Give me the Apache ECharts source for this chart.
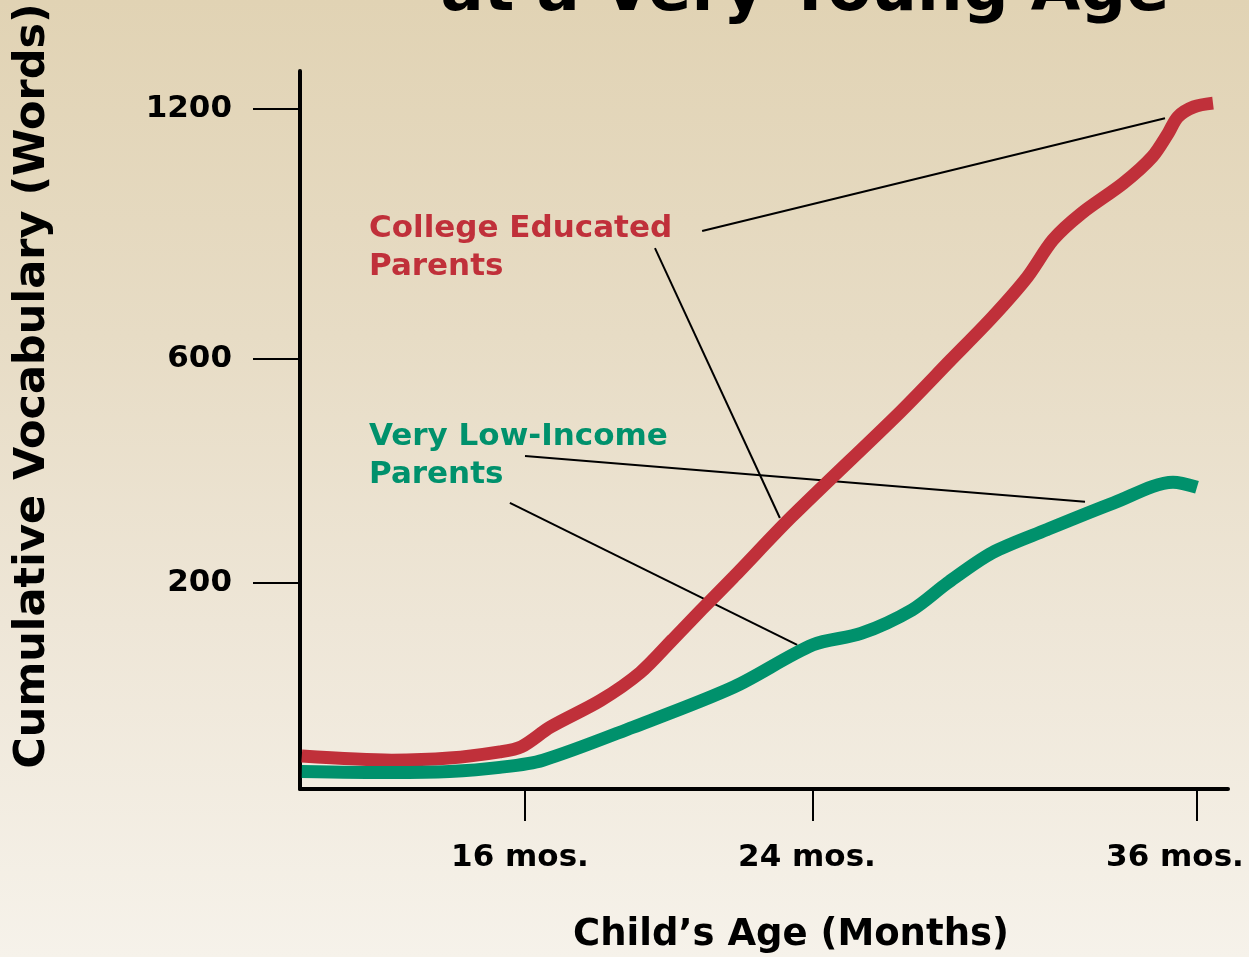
<!DOCTYPE html>
<html>
<head>
<meta charset="utf-8">
<title>Vocabulary at a Very Young Age</title>
<script src="https://cdn.jsdelivr.net/npm/echarts@6/dist/echarts.min.js"></script>
<style>
  html, body { margin: 0; padding: 0; }
  body {
    width: 1249px; height: 957px;
    background: linear-gradient(to bottom, #e1d3b4 0%, #e7dcc5 35%, #eee6d7 65%, #f6f2ea 100%);
  }
  #chart { width: 1249px; height: 957px; }
</style>
</head>
<body>
<div id="chart"></div>
<script>
// data (age in months, vocabulary in words)
const ageCollege = [9.8, 12.3, 13.9, 15.3, 15.9, 16.7, 18.1, 19.2, 20.1, 20.9, 21.8, 23.4, 26.7, 28.3, 29.6, 30.7, 31.5, 32.4, 33.7, 34.6, 35.1, 35.4, 35.9, 36.5];
const vocabCollege = [32, 28, 30, 36, 41, 60, 86, 113, 145, 174, 211, 318, 504, 598, 700, 797, 886, 950, 1022, 1085, 1142, 1181, 1205, 1214];

const ageLowIncome = [9.8, 12.3, 13.9, 15.3, 16.5, 19.0, 21.8, 24.0, 25.5, 27.1, 28.2, 29.6, 31.3, 33.4, 35.25, 36.0];
const vocabLowIncome = [17, 16, 17, 21, 28, 60, 99, 140, 151, 174, 200, 254, 295, 343, 380, 371];

const xTicks = [16, 24, 36];
const xTickLabels = ['16 mos.', '24 mos.', '36 mos.'];
const yTicks = [200, 600, 1200];

// leader lines from the labels to the curves, [age, words]
const leaderFrom = [[20.92, 907], [19.61, 866], [16.0, 427], [15.58, 343]];
const leaderTo = [[35.0, 1178], [23.08, 316], [32.5, 345], [23.56, 140]];

// the original axes are not evenly spaced, so both are piecewise-linear scales
const monthKnots = [16, 24, 36];
const monthPos = [225, 513, 897];
const wordKnots = [0, 200, 600, 1200];
const wordPos = [0, 206, 430, 680];

function interp(v, xs, ys) {
  let i = 0;
  while (i < xs.length - 2 && v > xs[i + 1]) i++;
  return ys[i] + (v - xs[i]) * (ys[i + 1] - ys[i]) / (xs[i + 1] - xs[i]);
}
const xOf = m => interp(m, monthKnots, monthPos);
const yOf = w => interp(w, wordKnots, wordPos);
const toPoint = (m, w) => [xOf(m), yOf(w)];

const collegeData = ageCollege.map((m, i) => toPoint(m, vocabCollege[i]));
const lowIncomeData = ageLowIncome.map((m, i) => toPoint(m, vocabLowIncome[i]));
const leaderData = leaderFrom.map((p, i) => ({
  coords: [toPoint(p[0], p[1]), toPoint(leaderTo[i][0], leaderTo[i][1])]
}));

const xTickPos = xTicks.map(xOf);
const yTickPos = yTicks.map(yOf);
const xLabelPad = [10, 12, 44]; // pushes a label left of its tick

const FONT = "'DejaVu Sans', Verdana, sans-serif";
const RED = '#c0303a';
const GREEN = '#00916c';

const rich = {};
xLabelPad.forEach((p, i) => {
  rich['s' + i] = { padding: [0, p, 0, 0], fontFamily: FONT, fontWeight: 'bold', fontSize: 31, color: '#000' };
});

const chart = echarts.init(document.getElementById('chart'));

const option = {
  animation: false,
  backgroundColor: 'transparent',
  grid: { left: 300, right: 21, top: 71, bottom: 168 },
  xAxis: {
    type: 'value',
    min: 0,
    max: 928,
    splitLine: { show: false },
    axisLine: { onZero: false, lineStyle: { color: '#000', width: 4 } },
    axisTick: { customValues: xTickPos, length: 32, lineStyle: { color: '#000', width: 2 } },
    axisLabel: {
      customValues: xTickPos,
      margin: 53,
      formatter: function (v) {
        const i = xTickPos.findIndex(p => Math.abs(p - v) < 0.01);
        return '{s' + i + '|' + xTickLabels[i] + '}';
      },
      rich: rich
    }
  },
  yAxis: {
    type: 'value',
    min: 0,
    max: 718,
    splitLine: { show: false },
    axisLine: { show: true, lineStyle: { color: '#000', width: 4 } },
    axisTick: { show: true, customValues: yTickPos, length: 47, lineStyle: { color: '#000', width: 2 } },
    axisLabel: {
      customValues: yTickPos,
      margin: 68,
      fontFamily: FONT,
      fontWeight: 'bold',
      fontSize: 31,
      color: '#000',
      formatter: function (v) {
        const i = yTickPos.findIndex(p => Math.abs(p - v) < 0.01);
        return String(yTicks[i]);
      }
    }
  },
  graphic: [
    {
      type: 'text', x: 805, y: -7,
      style: {
        text: 'at a Very Young Age',
        fontFamily: FONT, fontWeight: 'bold', fontSize: 64,
        fill: '#000', align: 'center', verticalAlign: 'middle',
        textShadowColor: '#fff', textShadowOffsetX: 2, textShadowOffsetY: 2, textShadowBlur: 0
      }
    },
    {
      type: 'text', x: 33, y: 386, rotation: Math.PI / 2,
      style: {
        text: 'Cumulative Vocabulary (Words)',
        fontFamily: FONT, fontWeight: 'bold', fontSize: 43,
        fill: '#000', align: 'center', verticalAlign: 'middle'
      }
    },
    {
      type: 'text', x: 791, y: 935,
      style: {
        text: 'Child\u2019s Age (Months)',
        fontFamily: FONT, fontWeight: 'bold', fontSize: 37,
        fill: '#000', align: 'center', verticalAlign: 'middle'
      }
    },
    {
      type: 'text', x: 369, y: 248,
      style: {
        text: 'College Educated\nParents',
        fontFamily: FONT, fontWeight: 'bold', fontSize: 31, lineHeight: 38,
        fill: RED, align: 'left', verticalAlign: 'middle'
      }
    },
    {
      type: 'text', x: 369, y: 456,
      style: {
        text: 'Very Low-Income\nParents',
        fontFamily: FONT, fontWeight: 'bold', fontSize: 31, lineHeight: 38,
        fill: GREEN, align: 'left', verticalAlign: 'middle'
      }
    }
  ],
  series: [
    {
      name: 'Leaders',
      type: 'lines',
      coordinateSystem: 'cartesian2d',
      silent: true,
      z: 1,
      lineStyle: { color: '#000', width: 2, opacity: 1, curveness: 0 },
      data: leaderData
    },
    {
      name: 'College Educated Parents',
      type: 'line',
      z: 3,
      smooth: 0.3,
      symbol: 'none',
      lineStyle: { color: RED, width: 13, cap: 'butt' },
      data: collegeData
    },
    {
      name: 'Very Low-Income Parents',
      type: 'line',
      z: 3,
      smooth: 0.3,
      symbol: 'none',
      lineStyle: { color: GREEN, width: 13, cap: 'butt' },
      data: lowIncomeData
    }
  ]
};

chart.setOption(option);
</script>
</body>
</html>
